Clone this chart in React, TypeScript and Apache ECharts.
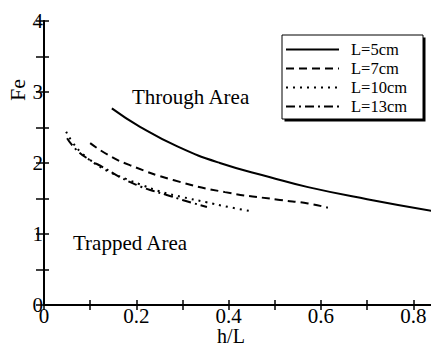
import React, { useEffect, useRef } from "react";
import * as echarts from "echarts";

const seriesNames = ["L=5cm", "L=7cm", "L=10cm", "L=13cm"];
const l5: [number, number][] = [[0.147, 2.77], [0.208, 2.51], [0.29, 2.23], [0.381, 2.0], [0.49, 1.8], [0.572, 1.66], [0.7, 1.49], [0.845, 1.32]];
const l7: [number, number][] = [[0.1, 2.28], [0.14, 2.11], [0.186, 1.97], [0.28, 1.76], [0.392, 1.59], [0.511, 1.48], [0.572, 1.43], [0.615, 1.37]];
const l10: [number, number][] = [[0.048, 2.44], [0.063, 2.28], [0.082, 2.14], [0.106, 2.01], [0.143, 1.87], [0.18, 1.77], [0.208, 1.7], [0.251, 1.6], [0.3, 1.52], [0.35, 1.45], [0.4, 1.38], [0.45, 1.32]];
const l13: [number, number][] = [[0.05, 2.35], [0.071, 2.18], [0.1, 2.04], [0.128, 1.94], [0.165, 1.8], [0.201, 1.69], [0.23, 1.62], [0.266, 1.55], [0.3, 1.48], [0.353, 1.38]];
const xTickLabels = ["0", "0.2", "0.4", "0.6", "0.8"];
const yTickLabels = ["0", "1", "2", "3", "4"];

const FONT = "'Liberation Serif', 'Times New Roman', serif";

export default function App() {
  const ref = useRef<HTMLDivElement>(null);
  useEffect(() => {
    if (!ref.current) return;
    const chart = echarts.init(ref.current, undefined, { renderer: "svg" });
    const xLabel = (v: number) => {
      const k = v * 5;
      if (Math.abs(k - Math.round(k)) > 1e-6) return "";
      return xTickLabels[Math.round(k)] ?? "";
    };
    const yLabel = (v: number) => {
      if (Math.abs(v - Math.round(v)) > 1e-6) return "";
      return yTickLabels[Math.round(v)] ?? "";
    };
    const lineAxis = { show: true, lineStyle: { color: "#000", width: 2 } };
    const tick = { inside: true, length: 5, lineStyle: { color: "#000", width: 1.5 } };
    const dashes: any[] = ["solid", [8, 5], [2, 5], [9, 4, 2, 4]];
    const datas = [l5, l7, l10, l13];
    chart.setOption({
      animation: false,
      backgroundColor: "#fff",
      textStyle: { fontFamily: FONT },
      grid: { left: 44, top: 21, width: 390.05, height: 284 },
      xAxis: [
        {
          type: "value", min: 0, max: 0.845, interval: 0.1, position: "bottom",
          axisLine: lineAxis, splitLine: { show: false }, axisTick: tick,
          axisLabel: { formatter: xLabel, fontSize: 21, lineHeight: 18, color: "#000", margin: 2, fontFamily: FONT, showMaxLabel: false },
        },
        {
          type: "value", min: 0, max: 0.845, interval: 0.1, position: "top",
          axisLine: lineAxis, splitLine: { show: false }, axisTick: tick,
          axisLabel: { show: false },
        },
      ],
      yAxis: [
        {
          type: "value", min: 0, max: 4, interval: 0.5, position: "left",
          axisLine: lineAxis, splitLine: { show: false }, axisTick: tick,
          axisLabel: { formatter: yLabel, fontSize: 21, color: "#000", margin: 1, fontFamily: FONT },
        },
        {
          type: "value", min: 0, max: 4, interval: 0.5, position: "right",
          axisLine: lineAxis, splitLine: { show: false },
          axisTick: { inside: true, length: 8, lineStyle: { color: "#000", width: 1.5 } },
          axisLabel: { show: false },
        },
      ],
      legend: {
        orient: "vertical",
        left: 285,
        top: 41,
        itemWidth: 53,
        itemHeight: 14,
        itemGap: 2,
        padding: 0,
        itemStyle: { opacity: 0 },
        textStyle: { fontSize: 16.5, lineHeight: 17, color: "#000", fontFamily: FONT, padding: [0, 0, 0, 7] },
        data: seriesNames,
      },
      series: seriesNames.map((name, i) => ({
        name,
        type: "line",
        data: datas[i],
        smooth: true,
        symbol: "none",
        lineStyle: { color: "#000", width: 2, type: dashes[i] },
        itemStyle: { color: "#000" },
      })),
      graphic: [
        { type: "rect", z: 1, shape: { x: 284.5, y: 37.5, width: 141, height: 84 }, style: { fill: "#000" } },
        { type: "rect", z: 2, shape: { x: 282, y: 35, width: 141, height: 84 }, style: { fill: "#fff", stroke: "#000", lineWidth: 1 } },
        { type: "text", x: 132, y: 97, style: { text: "Through Area", font: `21px ${FONT}`, fill: "#000", verticalAlign: "middle" } },
        { type: "text", x: 73, y: 243, style: { text: "Trapped Area", font: `21px ${FONT}`, fill: "#000", verticalAlign: "middle" } },
        { type: "text", x: 17, y: 90, rotation: Math.PI / 2, style: { text: "Fe", font: `22px ${FONT}`, fill: "#000", align: "center", verticalAlign: "middle" } },
        { type: "text", x: 231, y: 335.5, style: { text: "h/L", font: `20px ${FONT}`, fill: "#000", align: "center", verticalAlign: "middle" } },
      ],
    });
    return () => chart.dispose();
  }, []);
  return (
    <div style={{ position: "fixed", left: 0, top: 0, width: 431, height: 346, overflow: "hidden" }}>
      <div ref={ref} style={{ width: 450, height: 346 }} />
    </div>
  );
}
